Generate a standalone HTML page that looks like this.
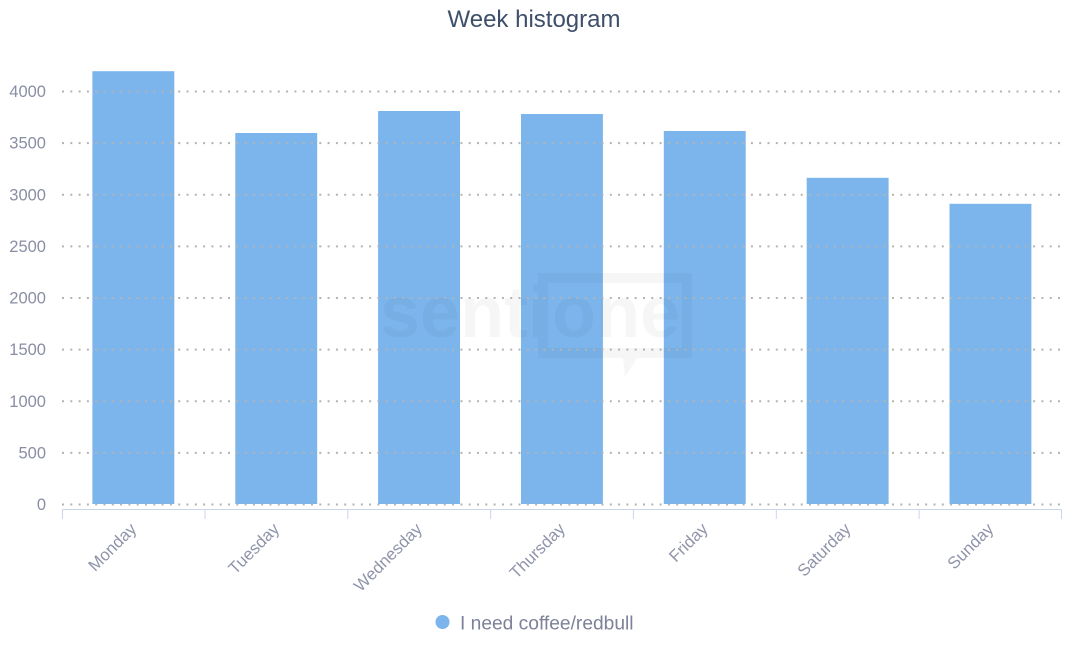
<!DOCTYPE html>
<html>
<head>
<meta charset="utf-8">
<style>
  html, body { margin: 0; padding: 0; background: #ffffff; }
  body { width: 1072px; height: 652px; overflow: hidden; }
  svg { display: block; font-family: "Liberation Sans", "DejaVu Sans", sans-serif; }
</style>
</head>
<body>
<svg width="1072" height="652" viewBox="0 0 1072 652" xmlns="http://www.w3.org/2000/svg">
  <rect x="0" y="0" width="1072" height="652" fill="#ffffff"/>

  <!-- Title -->
  <text x="534" y="27" text-anchor="middle" font-size="24" fill="#3e4f6a">Week histogram</text>

  <!-- Bars -->
  <g fill="#7cb5ec" stroke="#ffffff" stroke-width="1">
    <rect x="91.9" y="70.7" width="82.9" height="433.8"/>
    <rect x="234.8" y="132.5" width="82.9" height="372"/>
    <rect x="377.6" y="110.5" width="82.9" height="394"/>
    <rect x="520.5" y="113.5" width="82.9" height="391"/>
    <rect x="663.3" y="130.5" width="82.9" height="374"/>
    <rect x="806.2" y="177.3" width="82.9" height="327.2"/>
    <rect x="949.0" y="203.3" width="82.9" height="301.2"/>
  </g>

  <!-- Watermark -->
  <g fill="#000000" opacity="0.03">
    <text x="380" y="337" font-size="72" font-weight="bold">senti</text>
    <text x="552" y="337" font-size="72" font-weight="bold">one</text>
    <path d="M538 273 H692 V358 H637 L625 377 L623 358 H538 Z M548 283 V348 H682 V283 Z" fill-rule="evenodd"/>
  </g>

  <!-- Grid lines (dotted) -->
  <g stroke="#b3b3b3" stroke-width="2" stroke-dasharray="2,6.3" fill="none">
    <line x1="62" y1="504.5" x2="1062" y2="504.5"/>
    <line x1="62" y1="452.9" x2="1062" y2="452.9"/>
    <line x1="62" y1="401.25" x2="1062" y2="401.25"/>
    <line x1="62" y1="349.6" x2="1062" y2="349.6"/>
    <line x1="62" y1="298" x2="1062" y2="298"/>
    <line x1="62" y1="246.4" x2="1062" y2="246.4"/>
    <line x1="62" y1="194.75" x2="1062" y2="194.75"/>
    <line x1="62" y1="143.1" x2="1062" y2="143.1"/>
    <line x1="62" y1="91.5" x2="1062" y2="91.5"/>
  </g>

  <!-- Y axis labels -->
  <g font-size="16.5" fill="#8a8ea5" text-anchor="end">
    <text x="46" y="510">0</text>
    <text x="46" y="458.4">500</text>
    <text x="46" y="406.8">1000</text>
    <text x="46" y="355.1">1500</text>
    <text x="46" y="303.5">2000</text>
    <text x="46" y="251.9">2500</text>
    <text x="46" y="200.3">3000</text>
    <text x="46" y="148.6">3500</text>
    <text x="46" y="97">4000</text>
  </g>

  <!-- X axis line and ticks -->
  <g stroke="#ccd6eb" stroke-width="1" fill="none">
    <line x1="62" y1="509.5" x2="1062" y2="509.5"/>
    <line x1="62.5" y1="509.5" x2="62.5" y2="519"/>
    <line x1="205" y1="509.5" x2="205" y2="519"/>
    <line x1="347.8" y1="509.5" x2="347.8" y2="519"/>
    <line x1="490.6" y1="509.5" x2="490.6" y2="519"/>
    <line x1="633.4" y1="509.5" x2="633.4" y2="519"/>
    <line x1="776.3" y1="509.5" x2="776.3" y2="519"/>
    <line x1="919.1" y1="509.5" x2="919.1" y2="519"/>
    <line x1="1061.5" y1="509.5" x2="1061.5" y2="519"/>
  </g>

  <!-- X axis labels -->
  <g font-size="16.8" fill="#9094aa" text-anchor="end">
    <text x="137.4" y="530" transform="rotate(-45 137.4 530)">Monday</text>
    <text x="280.3" y="530" transform="rotate(-45 280.3 530)">Tuesday</text>
    <text x="423.1" y="530" transform="rotate(-45 423.1 530)">Wednesday</text>
    <text x="566.0" y="530" transform="rotate(-45 566.0 530)">Thursday</text>
    <text x="708.8" y="530" transform="rotate(-45 708.8 530)">Friday</text>
    <text x="851.7" y="530" transform="rotate(-45 851.7 530)">Saturday</text>
    <text x="994.5" y="530" transform="rotate(-45 994.5 530)">Sunday</text>
  </g>

  <!-- Legend -->
  <circle cx="442.5" cy="622" r="7" fill="#7cb5ec"/>
  <text x="460" y="629.5" font-size="19.2" fill="#7d8199">I need coffee/redbull</text>
</svg>
</body>
</html>
